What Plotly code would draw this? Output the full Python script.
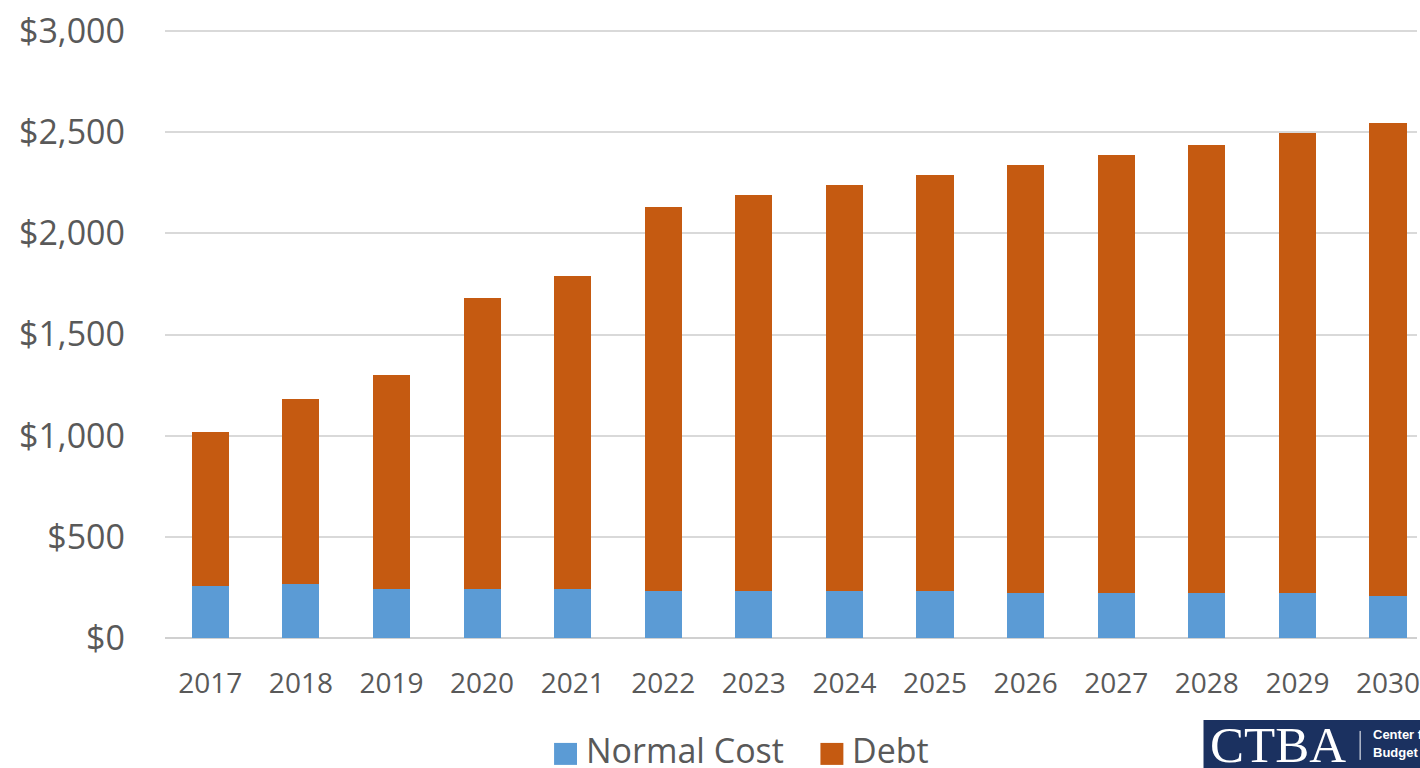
import plotly.graph_objects as go

years = ["2017", "2018", "2019", "2020", "2021", "2022", "2023",
         "2024", "2025", "2026", "2027", "2028", "2029", "2030"]
normal_cost = [257, 268, 242, 242, 242, 234, 234, 234, 234, 221, 221, 221, 221, 210]
totals = [1020, 1180, 1300, 1680, 1790, 2130, 2190, 2240, 2290, 2340, 2385, 2435, 2495, 2545]
debt = [t - n for t, n in zip(totals, normal_cost)]
y_ticks = [0, 500, 1000, 1500, 2000, 2500, 3000]
y_tick_labels = ["$0", "$500", "$1,000", "$1,500", "$2,000", "$2,500", "$3,000"]
legend_names = ["Normal Cost", "Debt"]

BLUE = "#5b9bd5"
ORANGE = "#c55a11"
GRAY = "#595959"
FONT = "Open Sans, Noto Sans, sans-serif"

W, H = 1420, 768
L, R, T, B = 165, 0, 27.5, 130
plot_w = W - L - R
plot_h = H - T - B


def px_x(px):
    return (px - L) / plot_w


def px_y(py):
    return (H - B - py) / plot_h


fig = go.Figure()
fig.add_trace(go.Bar(x=years, y=normal_cost, name=legend_names[0], showlegend=False,
                     marker=dict(color=BLUE, line=dict(width=0))))
fig.add_trace(go.Bar(x=years, y=debt, name=legend_names[1], showlegend=False,
                     marker=dict(color=ORANGE, line=dict(width=0))))

fig.update_layout(
    width=W, height=H,
    margin=dict(l=L, r=R, t=T, b=B, pad=0),
    barmode="stack",
    bargap=0.59,
    plot_bgcolor="white",
    paper_bgcolor="white",
    font=dict(family=FONT, color=GRAY),
    showlegend=False,
    xaxis=dict(type="category", range=[-0.5, 13.32], showgrid=False,
               showline=False, zeroline=False, ticks="",
               tickfont=dict(size=28, color=GRAY), ticklabelstandoff=26),
    yaxis=dict(range=[0, 3015], tickvals=y_ticks, ticktext=y_tick_labels,
               showgrid=True, gridcolor="#d9d9d9", gridwidth=1.5,
               zeroline=True, zerolinecolor="#d0d0d0", zerolinewidth=1.5,
               showline=False, ticks="",
               tickfont=dict(size=34, color=GRAY), ticklabelstandoff=39),
)

# Legend (drawn below the plot)
legend_items = [(legend_names[0], BLUE, 555, 588), (legend_names[1], ORANGE, 822, 855)]
for name, color, sq_x, tx_x in legend_items:
    fig.add_shape(type="rect", xref="paper", yref="paper",
                  x0=px_x(sq_x), x1=px_x(sq_x + 23), y0=px_y(765), y1=px_y(743),
                  fillcolor=color, line=dict(width=0))
    fig.add_annotation(text=name, xref="paper", yref="paper",
                       x=px_x(tx_x - 3), y=px_y(750), xanchor="left", yanchor="middle",
                       showarrow=False, font=dict(size=34, color=GRAY))

# CTBA logo
fig.add_shape(type="rect", xref="paper", yref="paper",
              x0=px_x(1206), x1=px_x(1430), y0=px_y(780), y1=px_y(720),
              fillcolor="#1b3160", line=dict(width=0), layer="above")
fig.add_shape(type="line", xref="paper", yref="paper",
              x0=px_x(1363), x1=px_x(1363), y0=px_y(731), y1=px_y(760),
              line=dict(color="white", width=1), layer="above")
fig.add_annotation(text="CTBA", xref="paper", yref="paper",
                   x=px_x(1210), y=px_y(745), xanchor="left", yanchor="middle",
                   showarrow=False,
                   font=dict(family="Liberation Serif, DejaVu Serif, serif",
                             size=51, color="white"))
fig.add_annotation(text="<b>Center for Tax and</b>", xref="paper", yref="paper",
                   x=px_x(1374), y=px_y(735), xanchor="left", yanchor="middle",
                   showarrow=False,
                   font=dict(family="Liberation Sans Narrow, Liberation Sans, sans-serif",
                             size=13, color="white"))
fig.add_annotation(text="<b>Budget Accountability</b>", xref="paper", yref="paper",
                   x=px_x(1374), y=px_y(753), xanchor="left", yanchor="middle",
                   showarrow=False,
                   font=dict(family="Liberation Sans Narrow, Liberation Sans, sans-serif",
                             size=13, color="white"))

fig.write_html("out.html",
               config={"displayModeBar": False},
               post_script="document.body.style.margin='0';"
                           "document.body.style.overflow='hidden';")
